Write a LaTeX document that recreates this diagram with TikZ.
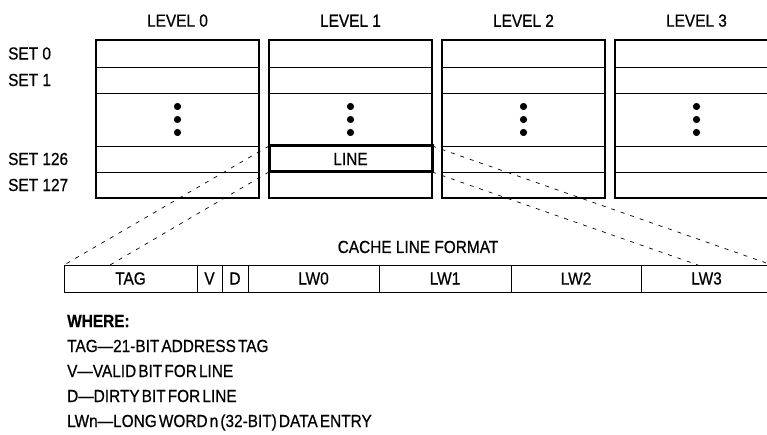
\documentclass[tikz,border=0pt]{standalone}
\usepackage{fontspec}
\setmainfont{Liberation Sans}[FakeStretch=0.88, FakeBold=0.6]
\usetikzlibrary{positioning}

% three dots in the middle row of a level
\newcommand{\threedots}[1]{%
  \foreach \d in {13,0,-13} \fill ([yshift=\d pt]#1.center) circle (3.6pt);}
\newcommand{\tightspace}{\spaceskip=0.12em\relax}

\begin{document}
\begin{tikzpicture}[
  x=1pt, y=-1pt,
  font=\fontsize{17.5}{20}\selectfont,
  setrow/.style={rectangle, draw, line width=0.8pt, minimum width=163pt, minimum height=26pt, inner sep=0pt, outer sep=0pt},
  frame/.style={draw, line width=1.8pt},
  levellabel/.style={inner sep=0pt},
  setlabel/.style={anchor=west, inner sep=0pt},
  field/.style={rectangle, draw, line width=0.8pt, minimum height=27pt, inner sep=0pt, outer sep=0pt},
  zoomline/.style={line width=0.7pt, dash pattern=on 4pt off 6pt},
  legend/.style={anchor=base west, inner sep=0pt, font=\fontsize{17.5}{20}\selectfont\tightspace}
]
\useasboundingbox (0,0) rectangle (767,435);
\clip (0,0) rectangle (767,435);

% level 0
\node[setrow, minimum height=27pt, anchor=north west] (l0s0) at (96,40) {};
\node[setrow, below=0pt of l0s0] (l0s1) {};
\node[setrow, minimum height=53pt, below=0pt of l0s1] (l0dots) {};
\node[setrow, below=0pt of l0dots] (l0s126) {};
\node[setrow, below=0pt of l0s126] (l0s127) {};
% level 1
\node[setrow, minimum height=27pt, right=10pt of l0s0] (l1s0) {};
\node[setrow, below=0pt of l1s0] (l1s1) {};
\node[setrow, minimum height=53pt, below=0pt of l1s1] (l1dots) {};
\node[setrow, line width=2.8pt, below=0pt of l1dots] (l1s126) {LINE};
\node[setrow, below=0pt of l1s126] (l1s127) {};
% level 2
\node[setrow, minimum height=27pt, right=10pt of l1s0] (l2s0) {};
\node[setrow, below=0pt of l2s0] (l2s1) {};
\node[setrow, minimum height=53pt, below=0pt of l2s1] (l2dots) {};
\node[setrow, below=0pt of l2dots] (l2s126) {};
\node[setrow, below=0pt of l2s126] (l2s127) {};
% level 3
\node[setrow, minimum height=27pt, right=10pt of l2s0] (l3s0) {};
\node[setrow, below=0pt of l3s0] (l3s1) {};
\node[setrow, minimum height=53pt, below=0pt of l3s1] (l3dots) {};
\node[setrow, below=0pt of l3dots] (l3s126) {};
\node[setrow, below=0pt of l3s126] (l3s127) {};

\draw[frame] (l0s0.north west) rectangle (l0s127.south east);
\draw[frame] (l1s0.north west) rectangle (l1s127.south east);
\draw[frame] (l2s0.north west) rectangle (l2s127.south east);
\draw[frame] (l3s0.north west) rectangle (l3s127.south east);
\draw[frame, line width=3pt] (l1s126.north west) rectangle (l1s126.south east);

\threedots{l0dots}
\threedots{l1dots}
\threedots{l2dots}
\threedots{l3dots}

\node[levellabel, above=13pt of l0s0] (lvl0) {LEVEL 0};
\node[levellabel, above=13pt of l1s0] (lvl1) {LEVEL 1};
\node[levellabel, above=13pt of l2s0] (lvl2) {LEVEL 2};
\node[levellabel, above=13pt of l3s0] (lvl3) {LEVEL 3};

\coordinate (setcol) at (8,0);
\node[setlabel] (set0) at (setcol |- l0s0) {SET 0};
\node[setlabel] (set1) at (setcol |- l0s1) {SET 1};
\node[setlabel] (set126) at (setcol |- l0s126) {SET 126};
\node[setlabel] (set127) at (setcol |- l0s127) {SET 127};

% cache line format
\node[anchor=base] (format) at (418,253) {CACHE LINE FORMAT};
\node[field, minimum width=133pt, anchor=north west] (tag) at (64,265) {TAG};
\node[field, minimum width=25pt, right=0pt of tag] (vbit) {V};
\node[field, minimum width=26pt, right=0pt of vbit] (dbit) {D};
\node[field, minimum width=131pt, right=0pt of dbit] (lw0) {LW0};
\node[field, minimum width=132pt, right=0pt of lw0] (lw1) {LW1};
\node[field, minimum width=130pt, right=0pt of lw1] (lw2) {LW2};
\node[field, minimum width=131pt, right=0pt of lw2] (lw3) {LW3};

\coordinate (tagin) at (110,265);
\coordinate (lw3in) at (698,265);
\draw[zoomline] (l1s126.north west) -- (tag.north west);
\draw[zoomline] (l1s126.south west) -- (tagin);
\draw[zoomline] (l1s126.north east) -- (lw3.north east);
\draw[zoomline] (l1s126.south east) -- (lw3in);

% legend
\node[anchor=base west, inner sep=0pt, font=\fontsize{17.5}{20}\selectfont\bfseries] (where) at (67,327) {WHERE:};
\node[legend] (tagdef) at ([yshift=-25pt]where.base west) {TAG---21-BIT ADDRESS TAG};
\node[legend] (vdef) at ([yshift=-25pt]tagdef.base west) {V---VALID BIT FOR LINE};
\node[legend] (ddef) at ([yshift=-25pt]vdef.base west) {D---DIRTY BIT FOR LINE};
\node[legend] (lwdef) at ([yshift=-25pt]ddef.base west) {LWn---LONG WORD n (32-BIT) DATA ENTRY};
\end{tikzpicture}
\end{document}
